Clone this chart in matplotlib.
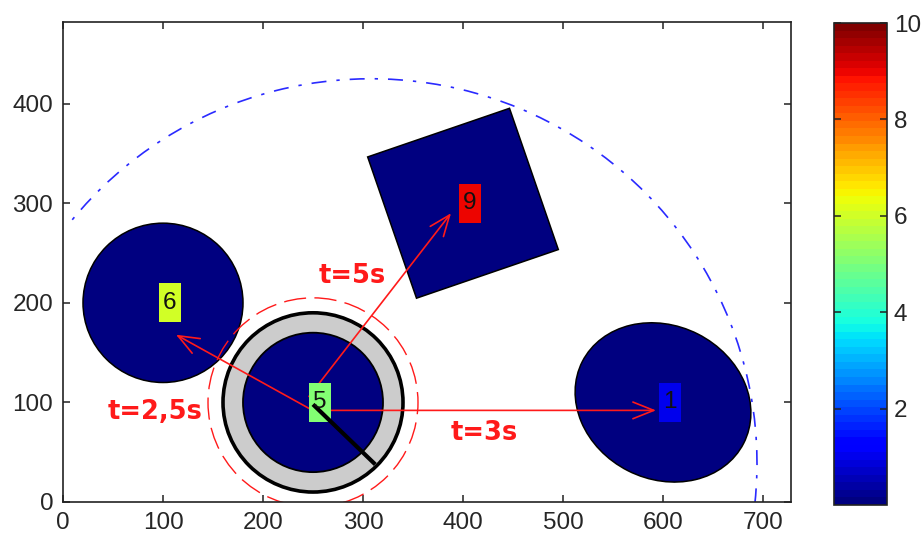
import numpy as np
import matplotlib
matplotlib.use("Agg")
import matplotlib.pyplot as plt
from matplotlib.patches import Circle, Ellipse, Rectangle, Arc, FancyArrowPatch
from matplotlib.colors import ListedColormap, Normalize
from matplotlib.cm import ScalarMappable

# ---------------- data ----------------
x_ticks = [0, 100, 200, 300, 400, 500, 600, 700]
y_ticks = [0, 100, 200, 300, 400]
x_limits = [0, 728]
y_limits = [0, 482]
cbar_ticks = [2, 4, 6, 8, 10]
cbar_limits = [0, 10]

disk_center = (100, 200)
disk_radius = 80

robot_center = (250, 100)
robot_inner_radius = 70
robot_outer_radius = 90
robot_safety_radius = 105
robot_heading_deg = -45
robot_heading_len = 88

square_center = (400, 300)
square_side = 150
square_angle = 19

ellipse_center = (600, 100)
ellipse_width = 181
ellipse_height = 154
ellipse_angle = -27

range_center = (308, 39)
range_radius = 386
range_theta = (-6, 141)

label_x = [100, 250, 400, 600]
label_y = [200, 100, 300, 100]
label_values = [6, 5, 9, 1]

arrow_start_x = [246, 246, 250]
arrow_start_y = [94, 106, 92]
arrow_end_x = [113, 388, 593]
arrow_end_y = [168, 290, 92]

time_labels = ["t=2,5s", "t=5s", "t=3s"]
time_label_x = [92, 289, 421]
time_label_y = [90, 227, 69]

# ---------------- style ----------------
W, H = 922, 536
fig = plt.figure(figsize=(W / 100, H / 100), dpi=100)
ax = fig.add_axes([63 / W, 1 - 502 / H, 728 / W, 480 / H])

cmap = ListedColormap(plt.get_cmap("jet")(np.linspace(0, 1, 64)))
norm = Normalize(*cbar_limits)
navy = cmap(0)
red = "#ff1a1a"
txt_col = "#262626"
font = "Liberation Sans"

ax.set_xlim(*x_limits)
ax.set_ylim(*y_limits)
ax.set_xticks(x_ticks)
ax.set_yticks(y_ticks)
ax.tick_params(direction="in", length=5, width=1.1, top=True, right=True,
               labelsize=17.5, colors="#222222", labelcolor=txt_col, pad=7)
for lab in ax.get_xticklabels() + ax.get_yticklabels():
    lab.set_family(font)
for s in ax.spines.values():
    s.set_linewidth(1.2)
    s.set_color("#222222")

# blue dash-dot range arc
ax.add_patch(Arc(range_center, 2 * range_radius, 2 * range_radius,
                 theta1=range_theta[0], theta2=range_theta[1],
                 color="#2a2aff", lw=1.2, ls=(0, (9, 6, 2, 6)), zorder=1))

# disk
ax.add_patch(Circle(disk_center, disk_radius, fc=navy, ec="black", lw=1.1, zorder=2))

# rotated square
ax.add_patch(Rectangle((square_center[0] - square_side / 2, square_center[1] - square_side / 2),
                       square_side, square_side, angle=square_angle, rotation_point="center",
                       fc=navy, ec="black", lw=1.1, zorder=2))

# ellipse
ax.add_patch(Ellipse(ellipse_center, ellipse_width, ellipse_height, angle=ellipse_angle,
                     fc=navy, ec="black", lw=1.1, zorder=2))

# robot
ax.add_patch(Circle(robot_center, robot_safety_radius, fill=False, ec=red, lw=1.0,
                    ls=(0, (16, 6)), zorder=2))
ax.add_patch(Circle(robot_center, robot_outer_radius, fc="#cccccc", ec="black", lw=2.6, zorder=2))
ax.add_patch(Circle(robot_center, robot_inner_radius, fc=navy, ec="black", lw=1.3, zorder=3))

# arrows
for sx, sy, ex, ey in zip(arrow_start_x, arrow_start_y, arrow_end_x, arrow_end_y):
    ax.add_patch(FancyArrowPatch((sx, sy), (ex, ey),
                                 arrowstyle="->,head_length=0.75,head_width=0.3",
                                 mutation_scale=20, color=red, lw=1.2,
                                 shrinkA=0, shrinkB=0, zorder=4))

# label boxes
box_w, box_h = 22, 39
for lx, ly, v in zip(label_x, label_y, label_values):
    cx = lx + 6.5
    ax.add_patch(Rectangle((cx - box_w / 2, ly - box_h / 2), box_w, box_h,
                           fc=cmap(norm(v)), ec="none", zorder=5))
    ax.text(cx, ly, str(v), ha="center", va="center", fontsize=17.5,
            family=font, color="#111111", zorder=7)

# heading line
hx = robot_center[0] + robot_heading_len * np.cos(np.radians(robot_heading_deg))
hy = robot_center[1] + robot_heading_len * np.sin(np.radians(robot_heading_deg))
ax.plot([robot_center[0], hx], [robot_center[1] - 2, hy], color="black", lw=3,
        solid_capstyle="butt", zorder=6)

# time labels
for t, tx, ty in zip(time_labels, time_label_x, time_label_y):
    ax.text(tx, ty, t, ha="center", va="center", fontsize=18.5, fontweight="bold",
            family="DejaVu Sans", color=red, zorder=8)

# colorbar
cax = fig.add_axes([834 / W, 1 - 505 / H, 53 / W, 482 / H])
sm = ScalarMappable(norm=norm, cmap=cmap)
cb = fig.colorbar(sm, cax=cax, ticks=cbar_ticks)
cb.outline.set_linewidth(1.2)
cb.outline.set_edgecolor("#222222")
cax.tick_params(direction="in", length=5, width=1.1, left=True, right=True,
                labelsize=17.5, labelcolor=txt_col, colors="#222222", pad=5)
for lab in cax.get_yticklabels():
    lab.set_family(font)

fig.savefig("out.png", dpi=100)
